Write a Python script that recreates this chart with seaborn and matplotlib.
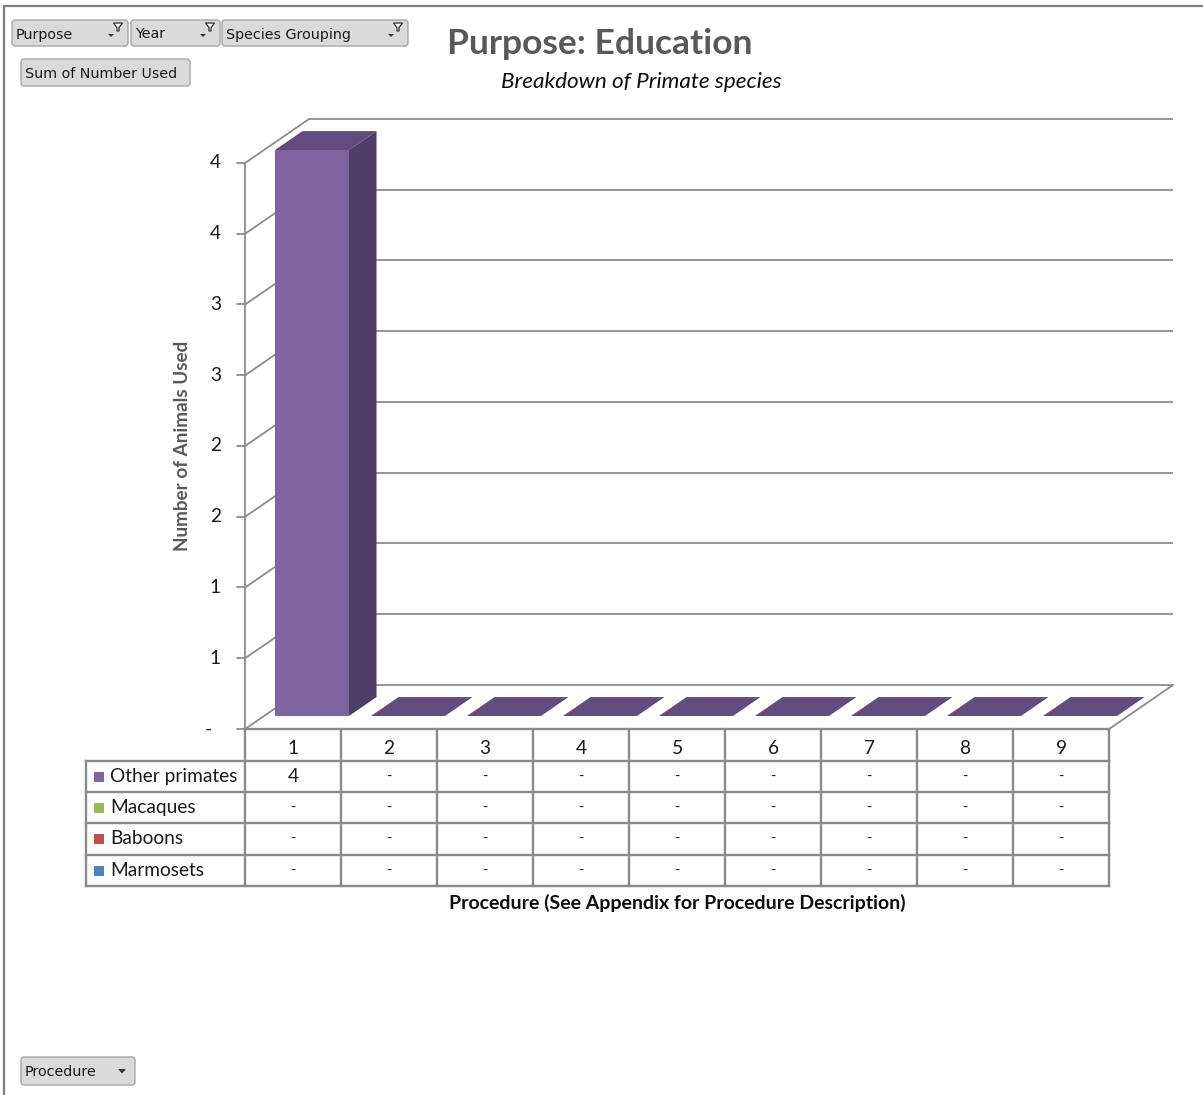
import numpy as np
import pandas as pd
import matplotlib
matplotlib.use("Agg")
import matplotlib.pyplot as plt
from matplotlib.patches import Polygon, FancyBboxPatch, Rectangle
import seaborn as sns

# ---- data -------------------------------------------------------------
procedures = ["1", "2", "3", "4", "5", "6", "7", "8", "9"]
other_primates = [4, 0, 0, 0, 0, 0, 0, 0, 0]
macaques = [0, 0, 0, 0, 0, 0, 0, 0, 0]
baboons = [0, 0, 0, 0, 0, 0, 0, 0, 0]
marmosets = [0, 0, 0, 0, 0, 0, 0, 0, 0]
species = ["Other primates", "Macaques", "Baboons", "Marmosets"]
species_values = [other_primates, macaques, baboons, marmosets]
species_colors = ["#8064A2", "#9BBB59", "#C0504D", "#4F81BD"]
y_ticks = [0, 0.5, 1, 1.5, 2, 2.5, 3, 3.5, 4]

filter_fields = ["Purpose", "Year", "Species Grouping"]
value_field = "Sum of Number Used"
axis_field = "Procedure"
title = "Purpose: Education"
subtitle = "Breakdown of Primate species"
y_title = "Number of Animals Used"
x_title = "Procedure (See Appendix for Procedure Description)"


def excel_number(v):
    """Accounting-style format: whole numbers, zero shown as a dash."""
    n = int(np.floor(v + 0.5))
    return "-" if n == 0 else f"{n:,}"


# ---- style ------------------------------------------------------------
W, H = 1203, 1095
sns.set_theme(style="white")
plt.rcParams["font.family"] = ["Lato", "DejaVu Sans"]

GRID = "#8C8C8C"
TABLE = "#8A8A8A"
TOP_FACE = "#634C7D"
SIDE_FACE = "#503E66"
TEXT = "#1A1A1A"
FS = 13.8

fig = plt.figure(figsize=(W / 100, H / 100), dpi=100)
fig.patch.set_facecolor("white")

# chart axes: x in category units, y in value units (plane of the bar fronts)
ax = fig.add_axes([0, 0, 1, 1])
X0_PX, CAT_PX, Y0_PX, UNIT_PX = 312, 96, 716, 141.5
DX = 64 / CAT_PX          # horizontal shift for full depth
DY = 44 / UNIT_PX         # vertical shift for full depth
D0 = 0.295                # depth of the bar fronts
BAR_DEPTH = 0.43
BAR_W = 74 / 96


def px_x(px):
    return (px - X0_PX) / CAT_PX


def px_y(py):
    return (Y0_PX - py) / UNIT_PX


def proj(x, v, d):
    return (x + (d - D0) * DX, v + (d - D0) * DY)


df = pd.DataFrame({"Procedure": procedures, "Number": other_primates})
sns.barplot(data=df, x="Procedure", y="Number", color=species_colors[0],
            saturation=1, width=BAR_W, errorbar=None, linewidth=0,
            ax=ax, zorder=4)
ax.set_xlim(px_x(0), px_x(W))
ax.set_ylim(px_y(H), px_y(0))
ax.axis("off")

n = len(procedures)
left, right = -0.5, n - 0.5

# back wall gridlines
for v in y_ticks:
    (xa, ya), (xb, yb) = proj(left, v, 1), proj(right, v, 1)
    ax.plot([xa, xb], [ya, yb], color=GRID, lw=1.3, zorder=1,
            solid_capstyle="butt")
# side wall gridlines (front axis to back wall), ticks and labels
for v in y_ticks:
    (xa, ya), (xb, yb) = proj(left, v, 0), proj(left, v, 1)
    ax.plot([xa, xb], [ya, yb], color=GRID, lw=1.3, zorder=1)
    ax.plot([xa - 8 / CAT_PX, xa], [ya, ya], color=GRID, lw=1.3, zorder=1)
    lab = excel_number(v)
    lx = px_x(221) if lab != "-" else px_x(212)
    ax.text(lx, ya, lab, ha="right", va="center", fontsize=FS,
            color=TEXT, zorder=6)

# front vertical axis
(xa, ya), (xb, yb) = proj(left, 0, 0), proj(left, max(y_ticks), 0)
ax.plot([xa, xb], [ya, yb], color=GRID, lw=1.3, zorder=1)
# floor right edge
(xa, ya), (xb, yb) = proj(right, 0, 0), proj(right, 0, 1)
ax.plot([xa, xb], [ya, yb], color=GRID, lw=1.3, zorder=1)

# 3-D faces of the columns
for i, v in enumerate(other_primates):
    x0, x1 = i - BAR_W / 2, i + BAR_W / 2
    d1 = D0 + BAR_DEPTH
    top = [proj(x0, v, D0), proj(x1, v, D0), proj(x1, v, d1), proj(x0, v, d1)]
    ax.add_patch(Polygon(top, closed=True, fc=TOP_FACE, ec="none", zorder=5))
    if v > 0:
        side = [proj(x1, 0, D0), proj(x1, 0, d1), proj(x1, v, d1), proj(x1, v, D0)]
        ax.add_patch(Polygon(side, closed=True, fc=SIDE_FACE, ec="none", zorder=5))

# ---- data table under the chart ---------------------------------------
edges = [proj(k - 0.5, 0, 0)[0] for k in range(n + 1)]
row_px = [729, 761, 792, 823, 855, 886]
rows = [px_y(p) for p in row_px]
legend_left = px_x(86)
tk = dict(color=TABLE, lw=1.7, zorder=2, solid_capstyle="projecting")

ax.plot([edges[0], edges[-1]], [rows[0], rows[0]], **tk)
for r in rows[1:]:
    ax.plot([legend_left, edges[-1]], [r, r], **tk)
for e in edges:
    ax.plot([e, e], [rows[0], rows[-1]], **tk)
ax.plot([legend_left, legend_left], [rows[1], rows[-1]], **tk)

for k, lab in enumerate(procedures):
    cx = (edges[k] + edges[k + 1]) / 2
    ax.text(cx, px_y(748), lab, ha="center", va="center",
            fontsize=FS, color=TEXT)

sq = 10 / CAT_PX
for j, (name, vals, col) in enumerate(zip(species, species_values, species_colors)):
    cy = (rows[j + 1] + rows[j + 2]) / 2
    ax.add_patch(Rectangle((px_x(94), cy - 5 / UNIT_PX), sq, 10 / UNIT_PX,
                           fc=col, ec="none", zorder=3))
    ax.text(px_x(110), cy, name, ha="left", va="center", fontsize=FS,
            color=TEXT)
    for k, v in enumerate(vals):
        cx = (edges[k] + edges[k + 1]) / 2
        txt = excel_number(v)
        ax.text(cx, cy, txt, ha="center", va="center",
                fontsize=FS if txt != "-" else 10.5, color=TEXT)

ax.text(px_x(677), px_y(903), x_title, ha="center", va="center",
        fontsize=14, fontweight="bold", color="#0D0D0D")

# ---- page decorations (pixel space) -----------------------------------
page = fig.add_axes([0, 0, 1, 1], zorder=5)
page.set_xlim(0, W)
page.set_ylim(H, 0)
page.axis("off")
page.patch.set_visible(False)

page.plot([4, W], [6, 6], color="#7F7F7F", lw=1.6)
page.plot([4, 4], [6, H], color="#7F7F7F", lw=1.6)

page.text(600, 43.5, title, ha="center", va="center", fontsize=25.5,
          fontweight="bold", color="#595959")
page.text(641, 81.5, subtitle, ha="center", va="center", fontsize=16.2,
          style="italic", color="#0D0D0D")
page.text(182, 446, y_title, ha="center", va="center", rotation=90,
          fontsize=13.6, fontweight="bold", color="#595959")

BTN_FC, BTN_EC = "#DADADA", "#A8A8A8"
BFONT = dict(family="DejaVu Sans", fontsize=10.3, color=TEXT,
             va="center", ha="left")


def button(x0, x1, y0, y1, label, kind):
    page.add_patch(FancyBboxPatch((x0, y0), x1 - x0, y1 - y0,
                                  boxstyle="round,pad=0,rounding_size=3",
                                  fc=BTN_FC, ec=BTN_EC, lw=1.0))
    cy = (y0 + y1) / 2
    page.text(x0 + 4, cy + 1.5, label, **BFONT)
    if kind == "filter":
        # small dropdown arrow and filter funnel
        ax_ = x1 - 17
        page.add_patch(Polygon([(ax_ - 3, cy + 1), (ax_ + 3, cy + 1), (ax_, cy + 4)],
                               fc="#333333", ec="none"))
        fx = x1 - 10
        page.add_patch(Polygon([(fx - 4.5, y0 + 3), (fx + 4.5, y0 + 3), (fx + 1, y0 + 7.5),
                                (fx + 1, y0 + 11), (fx - 1, y0 + 11), (fx - 1, y0 + 7.5)],
                               fc="#F4F4F4", ec="#333333", lw=0.9))
    elif kind == "axis":
        ax_ = x1 - 13
        page.add_patch(Polygon([(ax_ - 4, cy - 2), (ax_ + 4, cy - 2), (ax_, cy + 2.5)],
                               fc="#333333", ec="none"))


button(12, 128, 20, 46, filter_fields[0], "filter")
button(131, 220, 20, 46, filter_fields[1], "filter")
button(222, 408, 20, 46, filter_fields[2], "filter")
button(21, 190, 59, 86, value_field, "value")
button(21, 135, 1057, 1085, axis_field, "axis")

fig.savefig("out.png", dpi=100, facecolor="white")
